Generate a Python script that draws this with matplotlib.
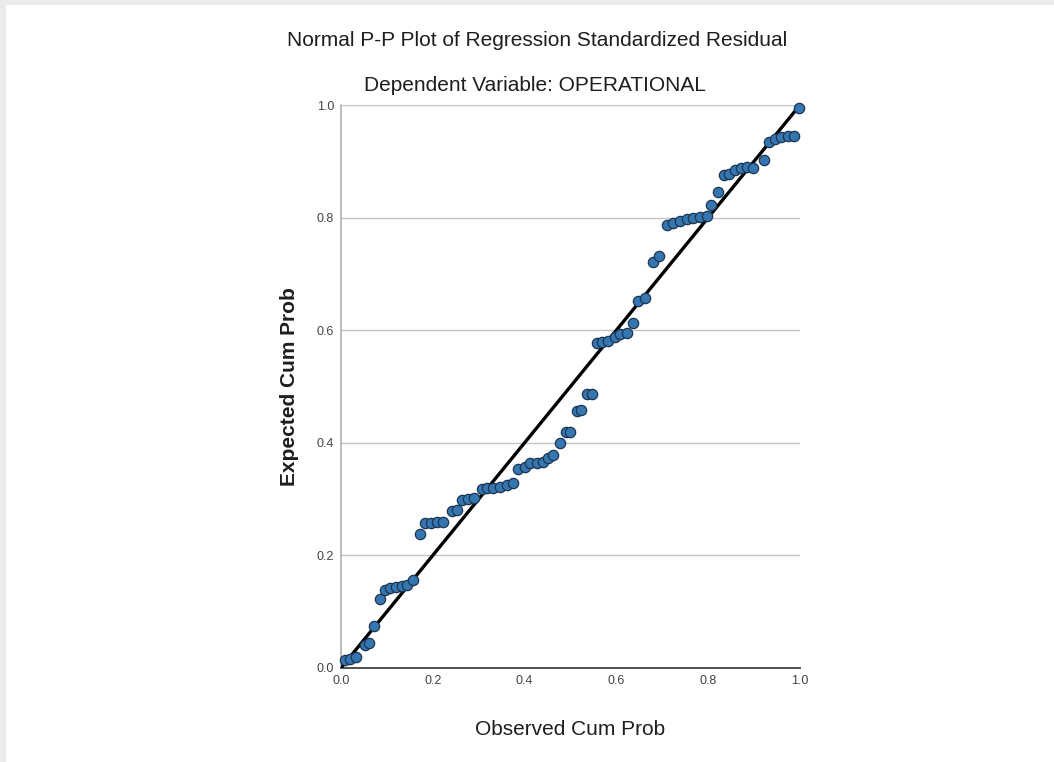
import matplotlib
matplotlib.use("Agg")
import matplotlib.pyplot as plt
from matplotlib.lines import Line2D

observed = [0.009, 0.020, 0.033, 0.052, 0.061, 0.072, 0.085, 0.096, 0.107, 0.120,
            0.133, 0.144, 0.157, 0.172, 0.183, 0.196, 0.209, 0.222, 0.242, 0.253,
            0.264, 0.277, 0.290, 0.307, 0.318, 0.331, 0.346, 0.362, 0.375, 0.386,
            0.401, 0.412, 0.427, 0.440, 0.451, 0.462, 0.477, 0.490, 0.499, 0.514,
            0.523, 0.536, 0.547, 0.558, 0.569, 0.582, 0.597, 0.608, 0.623, 0.636,
            0.647, 0.662, 0.680, 0.693, 0.710, 0.723, 0.739, 0.754, 0.767, 0.782,
            0.797, 0.806, 0.821, 0.834, 0.845, 0.858, 0.871, 0.885, 0.898, 0.922,
            0.932, 0.946, 0.959, 0.974, 0.987, 0.998]
expected = [0.014, 0.016, 0.020, 0.041, 0.044, 0.075, 0.123, 0.139, 0.142, 0.144,
            0.146, 0.147, 0.156, 0.238, 0.258, 0.258, 0.259, 0.259, 0.279, 0.281,
            0.298, 0.300, 0.302, 0.318, 0.320, 0.320, 0.321, 0.325, 0.329, 0.353,
            0.357, 0.364, 0.364, 0.366, 0.373, 0.378, 0.400, 0.419, 0.419, 0.456,
            0.458, 0.487, 0.487, 0.577, 0.579, 0.581, 0.588, 0.593, 0.595, 0.613,
            0.652, 0.657, 0.721, 0.732, 0.787, 0.790, 0.794, 0.798, 0.799, 0.801,
            0.803, 0.822, 0.845, 0.876, 0.877, 0.885, 0.888, 0.890, 0.888, 0.902,
            0.934, 0.940, 0.943, 0.945, 0.945, 0.995]
ticks = [0.0, 0.2, 0.4, 0.6, 0.8, 1.0]
tick_labels = ["0.0", "0.2", "0.4", "0.6", "0.8", "1.0"]

font = "Liberation Sans"

fig = plt.figure(figsize=(10.54, 7.62), dpi=100)
fig.patch.set_facecolor("white")

# light gray frame at top and left of the picture
fig.add_artist(Line2D([0.003, 0.003], [0, 1], transform=fig.transFigure, color="#ebebeb", lw=4.5))
fig.add_artist(Line2D([0, 1], [0.997, 0.997], transform=fig.transFigure, color="#ebebeb", lw=3.5))

ax = fig.add_axes([0.3235, 0.1234, 0.4355, 0.7388])
ax.set_xlim(0, 1)
ax.set_ylim(0, 1)
ax.set_facecolor("white")

for y in ticks[1:]:
    ax.axhline(y, color="#c4c4c4", lw=1.0, zorder=1)

ax.plot([0, 1], [0, 1], color="black", lw=2.4, zorder=3, solid_capstyle="butt")
ax.scatter(observed, expected, s=55, facecolor="#3676b0", edgecolor="#1b3550",
           linewidths=0.9, zorder=4, clip_on=False)

ax.spines["top"].set_visible(False)
ax.spines["right"].set_visible(False)
ax.spines["left"].set_color("#b0b0b0")
ax.spines["left"].set_linewidth(1.2)
ax.spines["bottom"].set_color("#505050")
ax.spines["bottom"].set_linewidth(1.4)

ax.set_xticks(ticks)
ax.set_xticklabels(tick_labels)
ax.set_yticks(ticks)
ax.set_yticklabels(tick_labels)
ax.tick_params(length=0, labelsize=9, labelcolor="#444444", pad=5)
for lab in ax.get_xticklabels() + ax.get_yticklabels():
    lab.set_family(font)

ax.set_xlabel("Observed Cum Prob", fontsize=15, fontfamily=font, labelpad=24, color="#1e1e1e")
ax.set_ylabel("Expected Cum Prob", fontsize=15, fontfamily=font, fontweight="bold", labelpad=13, color="#1e1e1e")

fig.text(0.5095, 0.947, "Normal P-P Plot of Regression Standardized Residual",
         ha="center", va="center", fontsize=15, fontfamily=font, color="#1e1e1e")
fig.text(0.5075, 0.888, "Dependent Variable: OPERATIONAL",
         ha="center", va="center", fontsize=15, fontfamily=font, color="#1e1e1e")

fig.savefig("out.png", dpi=100, facecolor="white")
